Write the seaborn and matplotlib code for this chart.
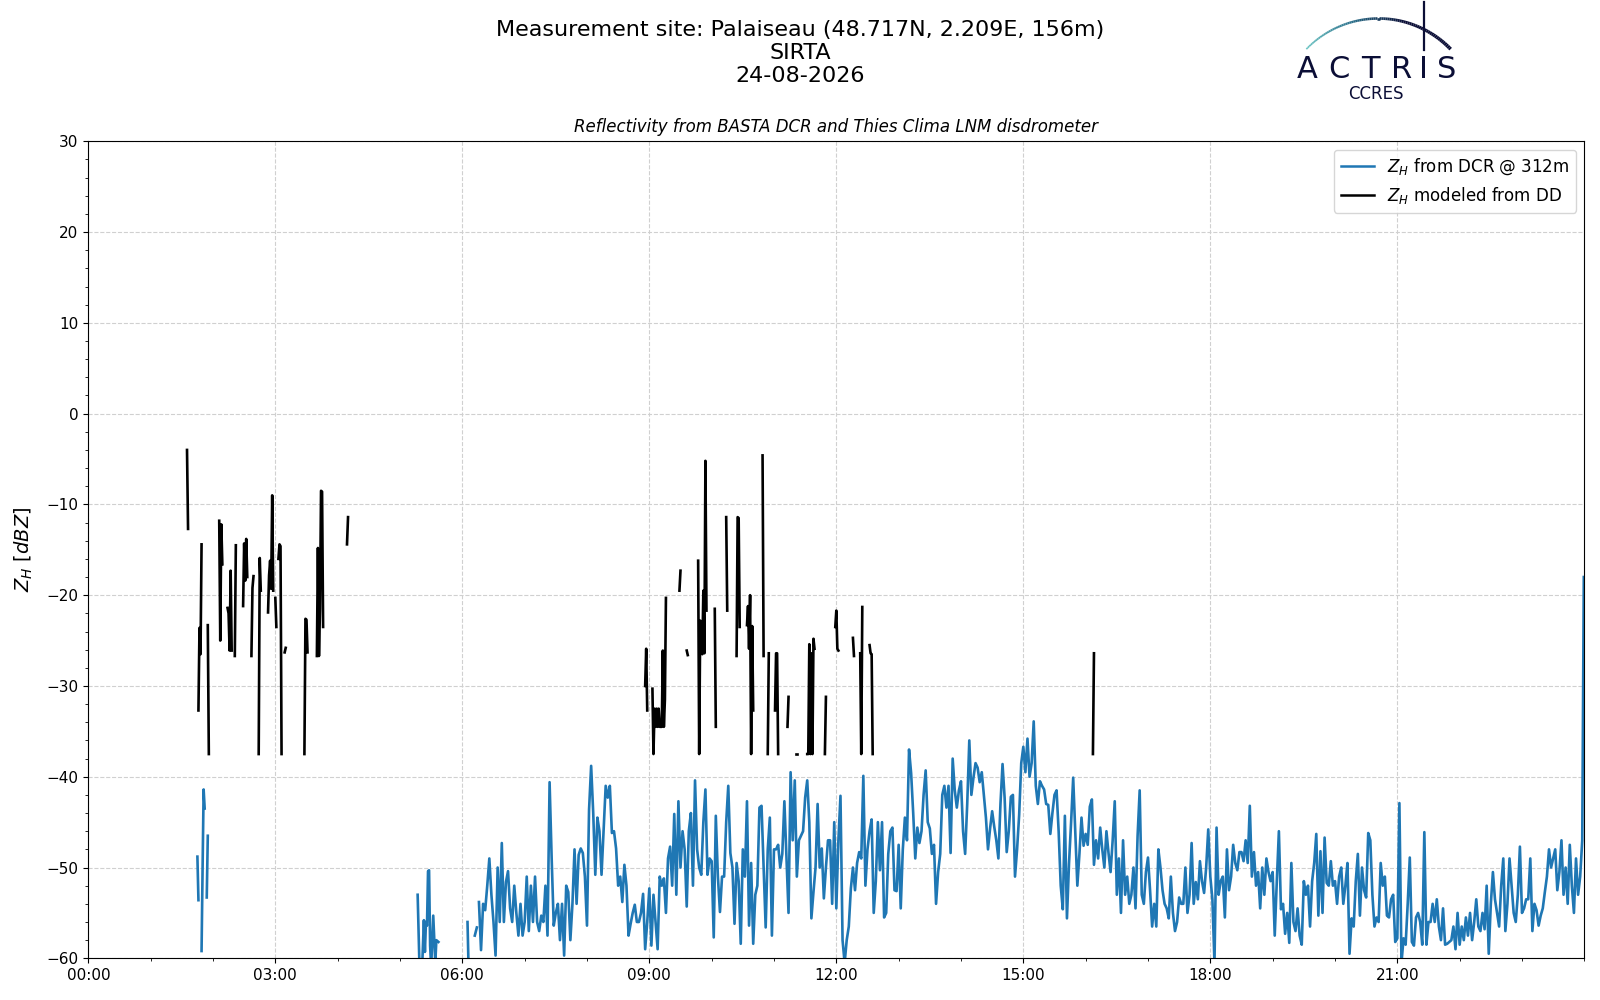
import numpy as np
import pandas as pd
import matplotlib
matplotlib.use("Agg")
import matplotlib.pyplot as plt
import seaborn as sns
from matplotlib.collections import LineCollection
from matplotlib.lines import Line2D
from matplotlib.ticker import MultipleLocator, FuncFormatter
import matplotlib.colors as mcolors

nan = np.nan

# ---------------- data (minutes since 00:00, dBZ) ----------------
# DCR (BASTA) reflectivity @ 312 m : early isolated pieces (1-min), NaN = gap
dcr_early_min = [105, 106, nan, 109, 110, 111, 112, nan, 114, 115, nan,
                 317, 319, 321, 323, 324, 325, 326, 327, 328, 329, 330, 332, 334, 335, 337, nan,
                 365, 366, nan, 372, 374, nan]
dcr_early_val = [-48.8, -53.6, nan, -59.2, -50, -41.4, -43.5, nan, -53.3, -46.5, nan,
                 -53, -62, -62, -55.8, -59.3, -56, -56.4, -50.4, -50.3, -58.6, -61, -55.3, -60.5, -58, -58.2, nan,
                 -56, -61, nan, -57.5, -56.6, nan]

# continuous DCR record, 2-min steps
dcr_a_start = 376
dcr_a = [-53.8, -59.1,
         -54, -54.7, -52, -49, -53, -56, -59.7, -50, -56, -47.3,
         -56, -51.6, -50.4, -54.5, -56, -52, -55, -57.5, -54, -57.5,
         -56, -51, -57, -52, -56, -51, -56, -57, -55.3, -56,
         -52, -57.5, -40.6, -49, -56.4, -55, -54, -58, -54, -59.7,
         -52, -52.7, -58, -54, -48, -54, -48.6, -47.9, -48.4, -51,
         -56.4, -43.6, -38.8, -44, -50.8, -44.5, -46, -50.8, -46, -41,
         -42.3, -41, -46.2, -46, -47.9, -52, -51, -53.8, -49.7, -52,
         -57.5, -56.2, -55, -54.1, -56, -56, -55, -52.9, -59, -56,
         -52.3, -58.6, -53, -56, -59, -51, -52, -51.2, -55, -49,
         -47.7, -52, -44.1, -53, -42.7]
dcr_b_start = 570
dcr_b = [-50, -46, -48, -54.3, -46, -44, -52, -40.4, -48, -50,
         -50.8, -45, -41.4, -50.8, -49, -49.3, -57.7, -44.3, -51, -54.9,
         -51, -51, -45, -41, -48.4, -50, -56.2, -49.5, -51.5, -58.4,
         -48, -51, -42.7, -56.4, -49.5, -58.4, -53, -52, -43.4, -43.2,
         -50, -56.6, -48, -44.5, -57.5, -48, -48, -47.5, -50, -48.5,
         -42.7, -49, -55, -39.5, -47, -40.4, -51, -47, -46.5, -46,
         -42.3, -40.4, -45, -55.6, -52.7, -50, -43, -50, -47.9, -53.4,
         -50, -47, -47, -54, -45, -54.5, -47, -42.1, -58, -60.5,
         -58, -56.5, -52.3, -50, -52.5, -49.5, -48.3, -49, -39.9, -52,
         -48, -46]
dcr_c_start = 754
dcr_c = [-44.7, -55, -51.5, -45, -50.3, -45, -55.5, -55, -48.5, -46,
         -45.6, -52.5, -52.6, -47.5, -54.5, -48, -44.5, -47, -37, -39.6,
         -44, -49, -45.6, -47.3, -46, -42, -39.3, -45, -45.7, -48.5,
         -47.5, -54, -50.5, -48.5, -42, -41, -43.4, -41, -48.4, -38,
         -41.5, -43.4, -41.5, -40.5, -46, -48.5, -43, -36, -42, -40.1,
         -38.5, -39, -40.6, -39.5, -42, -44.5, -48, -45.7, -43.8, -45.5,
         -47, -49, -43, -38.6, -42.3, -48.3, -46, -42.2, -42, -51,
         -48, -44.2, -38.5, -36.7, -39.5, -35.8, -40, -38.5, -33.9, -41,
         -43, -40.5, -41, -41.4, -43, -43.1, -46.3, -44, -42, -41.5,
         -46, -52, -54.6, -44.3, -55.6, -49.5, -45, -40.1, -46, -52,
         -48.5, -44.5, -47.6, -46.3, -47.5, -43.3, -42.5, -49.7, -47, -49,
         -45.6, -48, -50, -46, -48.4, -50.5, -47, -42.7, -53, -49,
         -55, -47, -53, -51, -54, -53, -50, -54.5, -46.5, -41.5,
         -53, -54, -50.5, -48.9, -52.5, -56.5, -54, -56.5, -48, -50,
         -52.5, -54, -54.5, -55.6, -51, -55, -57, -56, -53.3, -54,
         -54, -50, -55, -53]
dcr_d_start = 1062
dcr_d = [-47.3, -54, -51.6, -53.5, -49.3, -51.5, -52.8, -50, -45.8, -51,
         -53.5, -60.5, -45.6, -53, -51.5, -51, -55.5, -48, -52.5, -51,
         -47.5, -49.5, -50.3, -48.3, -48.3, -49.3, -47, -49.5, -43.2, -51,
         -48.3, -52, -50.5, -54.5, -50, -53, -49, -50.5, -51.5, -50.5,
         -57.5, -51.5, -46, -54.6, -54, -57.3, -55, -58.3, -49.5, -56,
         -57, -54.5, -57.5, -58.5, -51.5, -53, -52, -56.5, -51.5, -49.5,
         -46.3, -55.3, -48.2, -55, -46.7, -51.7, -52, -49.3, -52, -51.5,
         -54, -51, -50, -54, -52, -49.5, -59.5, -55.6, -56.5, -51.5,
         -48.5, -55.3, -50, -52.5, -53.3, -46.2, -47, -53, -56.5, -55.5,
         -56, -49.5, -52, -51, -55.3, -55.5, -53.5, -53, -58.2, -57.8,
         -42.9, -60.5, -57.8, -58.5, -54, -48.9, -58.2, -58.6, -55.5, -55,
         -56, -58.5, -46.1, -58.5, -56, -56, -54, -56, -53.5, -56.5,
         -58, -54.5, -58.5, -58.4, -58.2, -58, -56.5, -59, -55, -58.5,
         -56.5, -58, -55.5, -57.5, -55, -58, -56, -53.5, -56.5, -57,
         -55, -56.8, -52, -59.5, -54, -50.5, -53.5, -55, -56.5, -52,
         -49, -57, -54, -49, -52, -55, -56, -53, -47.7, -55,
         -54.5, -53.5, -53.5, -49, -57, -54, -54.7, -56.4, -55.3, -54.5,
         -52.7, -51, -48, -50, -49, -48, -52.5, -50.5]
dcr_e_min = [1418, 1420, 1422, 1424, 1426, 1428, 1430, 1432, 1434, 1436, 1438, 1439.5]
dcr_e = [-47, -53, -50, -54, -47.5, -52, -55, -49, -53, -51, -47, -18]

# Modeled Z_H from disdrometer (1-min), NaN = gap
dd_start = [95, 106, 115, 126, 134, 141, 149, 157, 164, 173, 180, 183, 189, 208, 220, 249,
            536, 543, 569, 576, 587, 603, 614, 624, 634, 649, 654, 661, 673, 681, 692,
            709, 719, 736, 743, 752, 967]
dd_vals = [[-4, -12.7],
           [-32.7, -23.6, -26.5, -14.4],
           [-23.3, -37.5],
           [-11.8, -25, -12.2, -16.6],
           [-21.4, -22, -26.1, -17.3, -26.1],
           [-26.7, -14.5],
           [-21.2, -14.3, -18.4, -13.8, -18],
           [-26.7, -19.2, -17.9],
           [-37.5, -15.9, -19.5],
           [-21.9, -17.8, -16.2, -19.3, -9.0, -19.5],
           [-20.3, -23.5],
           [-16, -14.4, -14.6, -37.5],
           [-26.3, -25.8],
           [-37.5, -22.6, -22.7, -26.3],
           [-26.7, -14.8, -26.7, -21.5, -8.5, -8.6, -23.5],
           [-14.4, -11.4],
           [-30, -25.9, -32.7],
           [-30.3, -37.5, -32.5, -34.5, -32.5, -34.5, -32.5, -34.5, -34.5, -34.5, -26.1, -34.5, -31.5, -20.3],
           [-19.5, -17.3],
           [-26.1, -26.6],
           [-16.2, -37.5, -22.8, -26.3, -26.5, -19.5, -26.4, -5.2, -21.7],
           [-21.5, -34.5],
           [-11.4, -21.7],
           [-26.7, -11.4, -11.5, -23.5],
           [-23.3, -21.2, -25.9, -20, -37.5, -23.4, -32.7],
           [-4.6, -26.7],
           [-37.5, -26.4],
           [-32.7, -26.4, -26.4, -37.5],
           [-34.5, -31.2],
           [-37.5, -37.5],
           [-37.5, -37.5, -25.4, -37.5, -26.4, -37.5, -24.8, -25.9],
           [-37.5, -31.2],
           [-23.5, -21.7, -25.9, -26.1],
           [-24.7, -26.7],
           [-26.4, -37.5, -21.3],
           [-25.5, -26.4, -26.5, -37.5],
           [-37.5, -26.4]]

title_lines = ["Measurement site: Palaiseau (48.717N, 2.209E, 156m)", "SIRTA", "24-08-2026"]
sub_title = "Reflectivity from BASTA DCR and Thies Clima LNM disdrometer"
label_dcr = r"$Z_H$ from DCR @ 312m"
label_dd = r"$Z_H$ modeled from DD"

# ---------------- build tables ----------------
def seg_frame(t, v):
    t = np.asarray(t, float)
    v = np.asarray(v, float)
    seg = np.cumsum(np.isnan(t))
    df = pd.DataFrame({"h": t / 60.0, "v": v, "seg": seg})
    return df.dropna().reset_index(drop=True)

cont_t, cont_v = [], []
for st, vals in [(dcr_a_start, dcr_a), (dcr_b_start, dcr_b), (dcr_c_start, dcr_c), (dcr_d_start, dcr_d)]:
    cont_t += list(st + 2 * np.arange(len(vals)))
    cont_v += list(vals)
cont_t += dcr_e_min
cont_v += dcr_e
dcr_t = list(dcr_early_min) + cont_t
dcr_v = list(dcr_early_val) + cont_v
df_dcr = seg_frame(dcr_t, dcr_v)

dd_t, dd_v = [], []
for st, vals in zip(dd_start, dd_vals):
    dd_t += list(st + np.arange(len(vals))) + [nan]
    dd_v += list(vals) + [nan]
df_dd = seg_frame(dd_t, dd_v)

# ---------------- figure ----------------
plt.rcParams["font.family"] = ["DejaVu Sans"]
fig = plt.figure(figsize=(16, 10), dpi=100)
ax = fig.add_axes([0.0552, 0.0417, 0.935, 0.817])

blue = "#1f77b4"
sns.lineplot(data=df_dcr, x="h", y="v", units="seg", estimator=None, sort=False,
             color=blue, linewidth=1.9, ax=ax, legend=False)
sns.lineplot(data=df_dd, x="h", y="v", units="seg", estimator=None, sort=False,
             color="black", linewidth=1.9, ax=ax, legend=False)

ax.set_xlim(0, 24)
ax.set_ylim(-60, 30)
ax.set_xticks(np.arange(0, 24, 3))
ax.xaxis.set_major_formatter(FuncFormatter(lambda h, p: f"{int(round(h)):02d}:00"))
ax.xaxis.set_minor_locator(MultipleLocator(1))
ax.set_yticks(np.arange(-60, 31, 10))
ax.yaxis.set_minor_locator(MultipleLocator(2))
ax.tick_params(axis="both", which="major", labelsize=11)
ax.grid(True, which="major", linestyle="--", color="#d0d0d0", linewidth=0.8)
ax.set_axisbelow(True)
ax.set_xlabel("")
ax.set_ylabel(r"$Z_H$ [$dBZ$]", fontsize=14, labelpad=8)

handles = [Line2D([0], [0], color=blue, lw=1.8), Line2D([0], [0], color="black", lw=1.8)]
ax.legend(handles, [label_dcr, label_dd], loc="upper right", fontsize=12)

# titles
for txt, ypx in zip(title_lines, [30.0, 53.0, 76.0]):
    fig.text(0.5, 1 - ypx / 1000, txt, ha="center", va="center", fontsize=16)
fig.text(0.5225, 1 - 127 / 1000, sub_title, ha="center", va="center", fontsize=12, style="italic")

# ACTRIS / CCRES logo
navy = "#0b0e36"
for ch, xpx in zip("ACTRIS", [1307, 1339, 1370, 1402, 1424, 1447]):
    fig.text(xpx / 1600, 1 - 78.5 / 1000, ch, ha="center", va="baseline", fontsize=22, color=navy)
fig.text(1376 / 1600, 1 - 94 / 1000, "CCRES", ha="center", va="center", fontsize=12, color=navy)
ang = np.linspace(np.deg2rad(136), np.deg2rad(44), 80)
cx, cy, R = 1378.5, 118.8, 100.3
px = cx + R * np.cos(ang)
py = cy - R * np.sin(ang)
pts = np.column_stack([px / 1600, 1 - py / 1000]).reshape(-1, 1, 2)
segs = np.concatenate([pts[:-1], pts[1:]], axis=1)
cmap = mcolors.LinearSegmentedColormap.from_list("arc", ["#6cc5c4", "#2a6f8a", navy, navy])
lc = LineCollection(segs, cmap=cmap, linewidths=np.linspace(1.2, 2.6, len(segs)),
                    transform=fig.transFigure)
lc.set_array(np.linspace(0, 1, len(segs)))
fig.add_artist(lc)
fig.add_artist(Line2D([1424 / 1600, 1424 / 1600], [1 - 2 / 1000, 1 - 50 / 1000],
                      color=navy, lw=1.6, transform=fig.transFigure))

fig.savefig("out.png", dpi=100)
